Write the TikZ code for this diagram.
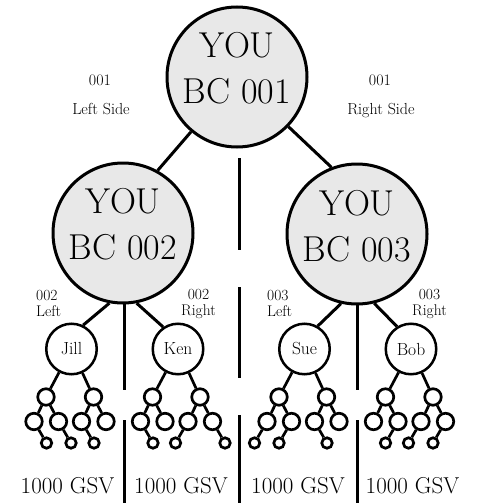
\documentclass[tikz,border=0pt]{standalone}
\usetikzlibrary{calc}
\definecolor{fillgray}{HTML}{E8E8E8}
\newcommand\MiniTree[2]{%
  \node[twig] (#1L) at ($(#1)+(-25.5,48)$) {};
  \node[twig] (#1R) at ($(#1)+(22,48)$) {};
  \node[twig] (#1a) at ($(#1L)+(-12,24.5)$) {};
  \node[twig] (#1b) at ($(#1L)+(12.5,24.5)$) {};
  \node[twig] (#1c) at ($(#1R)+(-12,24.5)$) {};
  \node[twig] (#1d) at ($(#1R)+(12.5,24.5)$) {};
  \draw[twigline] (#1) -- (#1L) (#1) -- (#1R) (#1L) -- (#1a) (#1L) -- (#1b) (#1R) -- (#1c) (#1R) -- (#1d);
  \foreach \c/\d in {#2} {
    \node[leaf] (#1\c x) at ($(#1\c)+(\d*12.5,21.5)$) {};
    \draw[twigline] (#1\c) -- (#1\c x);
  }%
}
\begin{document}
\begin{tikzpicture}[x=1pt,y=-1pt,
  big/.style={circle,draw,line width=3pt,fill=fillgray,minimum size=140pt,inner sep=0pt},
  bigtext/.style={font=\fontsize{36}{46}\selectfont,align=center,inner sep=0pt},
  kid/.style={circle,draw,line width=2.5pt,minimum size=50.5pt,inner sep=0pt,font=\fontsize{17.5}{20}\selectfont},
  twig/.style={circle,draw,line width=2.7pt,minimum size=16.5pt,inner sep=0pt},
  leaf/.style={circle,draw,line width=2.7pt,minimum size=10.5pt,inner sep=0pt},
  link/.style={line width=3pt},
  twigline/.style={line width=2.7pt},
  side/.style={font=\fontsize{16}{18}\selectfont,inner sep=0pt},
  sidesm/.style={font=\fontsize{15.5}{17}\selectfont,inner sep=0pt},
  sum/.style={font=\fontsize{23}{26}\selectfont,anchor=base,inner sep=0pt}]

\useasboundingbox (0,0) rectangle (479,503);

% big circles
\node[big] (top) at (237,77) {};
\node[bigtext] (topt) at (237,68.5) {YOU\\BC 001};
\node[big] (bc2) at (123,233) {};
\node[bigtext] (bc2t) at (123,224.5) {YOU\\BC 002};
\node[big] (bc3) at (357,234) {};
\node[bigtext] (bc3t) at (357,226) {YOU\\BC 003};

% side labels
\node[side,anchor=base] (l001a) at (100,85) {001};
\node[side,anchor=base] (l001b) at (101,114) {Left Side};
\node[side,anchor=base] (r001a) at (380,85) {001};
\node[side,anchor=base] (r001b) at (381,114) {Right Side};

\node[sidesm,anchor=base west] (l002a) at (36,300) {002};
\node[sidesm,anchor=base west] (l002b) at (36,316) {Left};
\node[sidesm,anchor=base] (r002a) at (198.5,299) {002};
\node[sidesm,anchor=base] (r002b) at (198.5,315) {Right};
\node[sidesm,anchor=base west] (l003a) at (267,300) {003};
\node[sidesm,anchor=base west] (l003b) at (267,316) {Left};
\node[sidesm,anchor=base] (r003a) at (429.5,299) {003};
\node[sidesm,anchor=base] (r003b) at (429.5,315) {Right};

% kids
\node[kid] (jill) at (71.5,349) {Jill};
\node[kid] (ken) at (178,349) {Ken};
\node[kid] (sue) at (304.5,349) {Sue};
\node[kid] (bob) at (411,349) {Bob};

% connectors
\draw[link] (top.230) -- (bc2.61);
\draw[link] (top.316) -- (bc3.111);
\draw[link] (bc2.259) -- (jill.64);
\draw[link] (bc2.281) -- (ken.124);
\draw[link] (bc3.257) -- (sue.60);
\draw[link] (bc3.284) -- (bob.122);

% dividers
\coordinate (m1) at (239,158);
\coordinate (m2) at (239,250);
\coordinate (m3) at (239,287);
\coordinate (m4) at (239,378);
\coordinate (m5) at (239,415);
\coordinate (m6) at (239,503);
\draw[link] (m1) -- (m2) (m3) -- (m4) (m5) -- (m6);
\coordinate (a1) at (124,304);
\coordinate (a2) at (124,390);
\coordinate (a3) at (124,420);
\coordinate (a4) at (124,503);
\draw[link] (a1) -- (a2) (a3) -- (a4);
\coordinate (b1) at (357,304);
\coordinate (b2) at (357,390);
\coordinate (b3) at (357,420);
\coordinate (b4) at (357,503);
\draw[link] (b1) -- (b2) (b3) -- (b4);

% mini trees
\MiniTree{jill}{a/1,b/1,c/1}
\MiniTree{ken}{a/1,c/-1,d/1}
\MiniTree{sue}{a/-1,b/-1,c/1}
\MiniTree{bob}{b/-1,c/-1,d/-1}

% totals
\node[sum] (s1) at (67.5,493) {1000 GSV};
\node[sum] (s2) at (181,493) {1000 GSV};
\node[sum] (s3) at (298,493) {1000 GSV};
\node[sum] (s4) at (412.5,493) {1000 GSV};
\end{tikzpicture}
\end{document}
